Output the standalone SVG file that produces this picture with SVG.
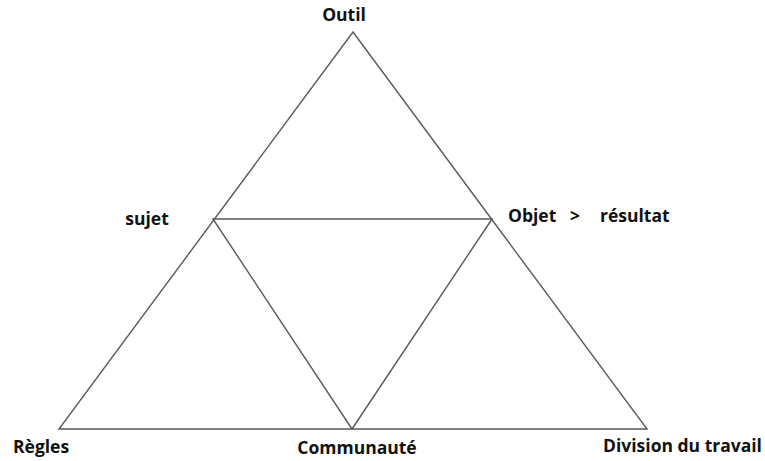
<svg xmlns="http://www.w3.org/2000/svg" width="765" height="461" viewBox="0 0 765 461">
<style>
.l{stroke:#5a5a5a;stroke-width:1.4;fill:none;stroke-linecap:round}
.t{font-family:"Open Sans","Noto Sans",sans-serif;font-weight:bold;font-size:17.5px;fill:#111}
</style>
<rect width="765" height="461" fill="#fff"/>
<g id="connectors">
<polygon class="l" points="353,32 59,429 647,429"/>
<line class="l" x1="213" y1="219" x2="492" y2="219"/>
<line class="l" x1="213" y1="219" x2="352" y2="429"/>
<line class="l" x1="492" y1="219" x2="352" y2="429"/>
</g>
<g id="outil"><text class="t" x="344" y="21" text-anchor="middle">Outil</text></g>
<g id="sujet"><text class="t" x="147" y="225" text-anchor="middle">sujet</text></g>
<g id="objet"><text class="t" y="222"><tspan x="508">Objet</tspan><tspan x="570">&gt;</tspan><tspan x="600">résultat</tspan></text></g>
<g id="regles"><text class="t" x="13" y="453">Règles</text></g>
<g id="communaute"><text class="t" x="357" y="454" text-anchor="middle">Communauté</text></g>
<g id="division"><text class="t" x="603" y="452">Division du travail</text></g>
</svg>
